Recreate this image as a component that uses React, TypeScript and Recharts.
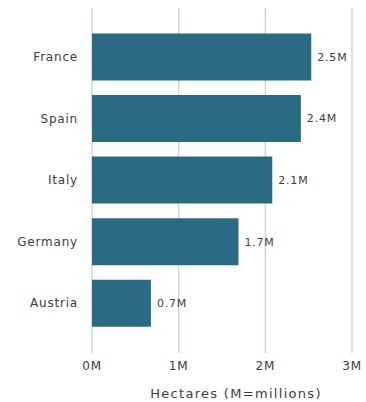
import React from 'react';
import { BarChart, Bar, XAxis, YAxis, CartesianGrid, LabelList } from 'recharts';

const countries = ['France', 'Spain', 'Italy', 'Germany', 'Austria'];
const hectares = [2.53, 2.41, 2.08, 1.69, 0.68];
const xTicks = [0, 1, 2, 3];

const data = countries.map((c, i) => ({ country: c, value: hectares[i] }));

const FONT = '"DejaVu Sans", Lato, sans-serif';

export default function App() {
  return (
    <div style={{ position: 'absolute', left: 0, top: 0, background: '#fff' }}>
      <BarChart
        width={366}
        height={402}
        data={data}
        layout="vertical"
        margin={{ top: 8, right: 14, bottom: 9, left: 0 }}
        barCategoryGap="12%"
      >
        <CartesianGrid horizontal={false} vertical stroke="#cbd7db" strokeWidth={1.5} />
        <XAxis
          type="number"
          domain={[0, 3]}
          ticks={xTicks}
          tickFormatter={(v: number) => `${v}M`}
          axisLine={false}
          tickLine={false}
          tick={{ fill: '#3d3d3d', fontSize: 12, fontFamily: FONT, letterSpacing: 0.8 }}
          height={40}
          label={{
            value: 'Hectares (M=millions)',
            position: 'insideBottom',
            offset: -5,
            dx: 14,
            fill: '#3d3d3d',
            fontSize: 13,
            fontFamily: FONT,
            letterSpacing: 1.3,
          }}
        />
        <YAxis
          type="category"
          dataKey="country"
          axisLine={false}
          tickLine={false}
          width={92}
          padding={{ top: 18, bottom: 19 }}
          tick={{ fill: '#3d3d3d', fontSize: 12, fontFamily: FONT, letterSpacing: 0.8 }}
          tickMargin={8}
        />
        <Bar dataKey="value" fill="#2b6a85" isAnimationActive={false}>
          <LabelList
            dataKey="value"
            position="right"
            offset={6}
            formatter={(v: number) => `${v.toFixed(1)}M`}
            style={{ fill: '#3d3d3d', fontSize: 11, fontFamily: FONT, letterSpacing: 0.8 }}
          />
        </Bar>
      </BarChart>
    </div>
  );
}
